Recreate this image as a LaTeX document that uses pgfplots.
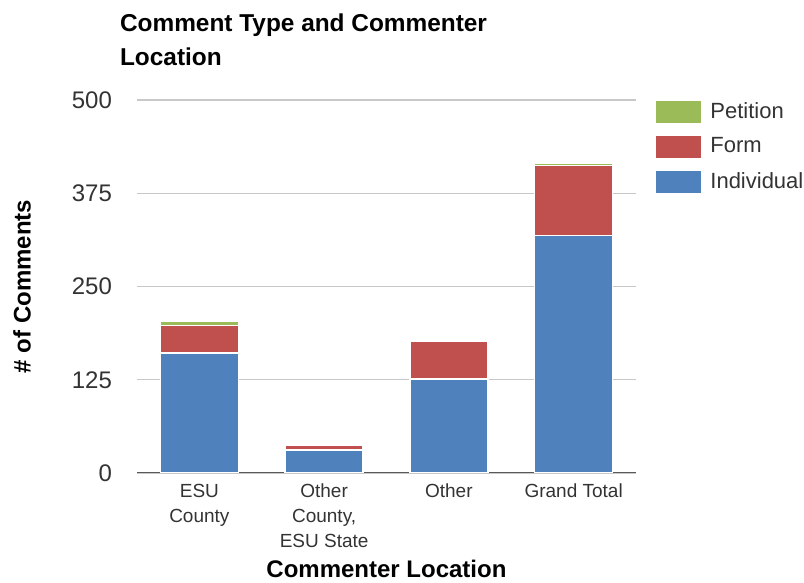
\documentclass[border=0pt]{standalone}
\usepackage{pgfplots}
\pgfplotsset{compat=1.18}
\usepackage{fontspec}
\setmainfont{Liberation Sans}

\definecolor{indiv}{HTML}{4F81BD}
\definecolor{formc}{HTML}{C0504D}
\definecolor{petit}{HTML}{9BBB59}
\definecolor{gridc}{HTML}{C8C8C8}

\begin{document}
\begin{tikzpicture}
\begin{axis}[
    name=ax,
    scale only axis,
    width=249.5pt, height=186.5pt,
    ybar stacked,
    bar width=0.625,
    xmin=-0.5, xmax=3.5,
    ymin=0, ymax=500,
    ytick={0,125,250,375,500},
    xtick={0,1,2,3},
    xticklabels={{ESU\\County},{Other\\County,\\ESU State},{Other},{Grand Total}},
    major tick length=0pt,
    axis line style={draw=none},
    ymajorgrids=true,
    grid style={gridc, line width=0.7pt},
    /pgf/number format/assume math mode=true,
    yticklabel style={font=\fontsize{12}{14}\selectfont, text=black!80, xshift=-9pt},
    xticklabel style={font=\fontsize{9.5}{12.5}\selectfont, text=black!80, align=center, anchor=north, yshift=-2pt},
    xlabel={\textbf{Commenter Location}},
    xlabel style={font=\fontsize{12}{14}\selectfont, at={(axis description cs:0.5,-0.2815)}, anchor=base},
    ylabel={\textbf{\# of Comments}},
    ylabel style={font=\fontsize{12}{14}\selectfont, at={(axis description cs:-0.2304,0.5)}, anchor=center},
    legend style={draw=none, fill=none, at={(1,1)}, anchor=north west, xshift=7pt, yshift=3pt,
        font=\fontsize{11}{13}\selectfont, text=black!80, row sep=4.25pt,
        cells={anchor=west},
        /tikz/every odd column/.append style={column sep=2.5pt}},
    legend image code/.code={\fill[#1,draw=none] (0pt,-5.5pt) rectangle (22.5pt,5.5pt);},
    reverse legend,
]
\addplot[fill=indiv, draw=white, line width=0.7pt] coordinates {(0,161) (1,31) (2,126) (3,318)};
\addlegendentry{Individual}
\addplot[fill=formc, draw=white, line width=0.7pt] coordinates {(0,37) (1,6) (2,51) (3,94)};
\addlegendentry{Form}
\addplot[fill=petit, draw=white, line width=0.7pt] coordinates {(0,5) (1,0) (2,0) (3,3)};
\addlegendentry{Petition}
\draw[black!65, line width=1pt] (rel axis cs:0,0) -- (rel axis cs:1,0);
\end{axis}
\node[anchor=base west, font=\bfseries\fontsize{12.2}{14}\selectfont] at ([shift={(-12pt,34.5pt)}]ax.north west) {Comment Type and Commenter};
\node[anchor=base west, font=\bfseries\fontsize{12.2}{14}\selectfont] at ([shift={(-12pt,17.5pt)}]ax.north west) {Location};
\pgfresetboundingbox
\path[use as bounding box] ([shift={(-68.5pt,-55pt)}]ax.south west) rectangle ([shift={(333.5pt,236.5pt)}]ax.south west);
\end{tikzpicture}
\end{document}
